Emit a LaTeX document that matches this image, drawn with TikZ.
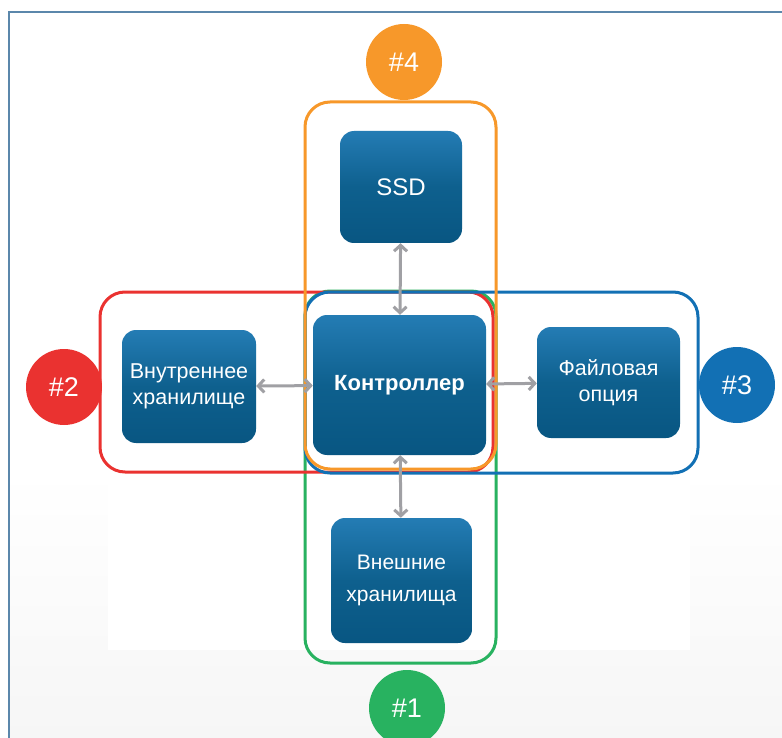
\documentclass[tikz,border=0pt]{standalone}
\usepackage{fontspec}
\setmainfont{Liberation Sans}
\usetikzlibrary{arrows.meta,positioning}
\definecolor{frameblue}{RGB}{91,135,171}
\definecolor{unittop}{RGB}{36,124,180}
\definecolor{unitmid}{RGB}{14,96,142}
\definecolor{unitbot}{RGB}{8,86,130}
\definecolor{linkgray}{RGB}{160,160,164}
\definecolor{grporange}{RGB}{247,152,42}
\definecolor{grpred}{RGB}{234,50,48}
\definecolor{grpblue}{RGB}{18,112,180}
\definecolor{grpgreen}{RGB}{40,178,96}
\tikzset{
    unit/.style={rounded corners=14pt, top color=unittop, bottom color=unitbot, middle color=unitmid, text=white, align=center, font=\fontsize{21.5}{26}\selectfont, inner sep=0pt},
    group/.style={draw, line width=3pt, rounded corners=25pt},
    badge/.style={circle, minimum size=76pt, inner sep=0pt, text=white, font=\fontsize{27}{27}\selectfont},
    link/.style={draw=linkgray, line width=3pt, {Straight Barb[length=6pt,width=13pt]}-{Straight Barb[length=6pt,width=13pt]}},
}

\begin{document}
\begin{tikzpicture}[x=1pt, y=-1pt]
    \clip (0,0) rectangle (782,738);
    \useasboundingbox (0,0) rectangle (782,738);
    % faint background
    \shade[top color=white, bottom color=gray!7] (10,470) rectangle (782,738);
    \fill[white] (108,125) rectangle (690,650);
    \draw[frameblue, line width=2pt] (9,738) -- (9,12) -- (782,12);

    % groups
    \draw[group, grpgreen] (305,291) rectangle (496,663);
    \draw[group, grpred] (100,292) rectangle (493,472);
    \draw[group, grpblue] (305,292) rectangle (698,473);
    \draw[group, grporange] (305,102) rectangle (496,469);

    % units
    \node[unit, minimum width=122pt, minimum height=112pt, font=\fontsize{24}{26}\selectfont] (ssd) at (401,187) {SSD};
    \node[unit, minimum width=173pt, minimum height=140pt, font=\fontsize{22}{26}\selectfont\bfseries] (ctrl) at (399.5,385) {Контроллер};
    \node[unit, minimum width=134pt, minimum height=113pt] (int) at (189,386.5) {Внутреннее\\хранилище};
    \node[unit, minimum width=143pt, minimum height=111pt] (file) at (608.5,382.5) {Файловая\\опция};
    \node[unit, minimum width=141pt, minimum height=125pt, font=\fontsize{21}{32}\selectfont] (ext) at (401.5,580.5) {Внешние\\хранилища};

    % links
    \draw[link] (int) -- (ctrl);
    \draw[link] (ctrl) -- (file);
    \draw[link] (ssd) -- (ctrl);
    \draw[link] (ctrl) -- (ext);

    % badges
    \node[badge, fill=grporange] (b4) at (404,62) {\#4};
    \node[badge, fill=grpred] (b2) at (64,387) {\#2};
    \node[badge, fill=grpblue] (b3) at (737,385) {\#3};
    \node[badge, fill=grpgreen] (b1) at (407,708) {\#1};
\end{tikzpicture}
\end{document}
